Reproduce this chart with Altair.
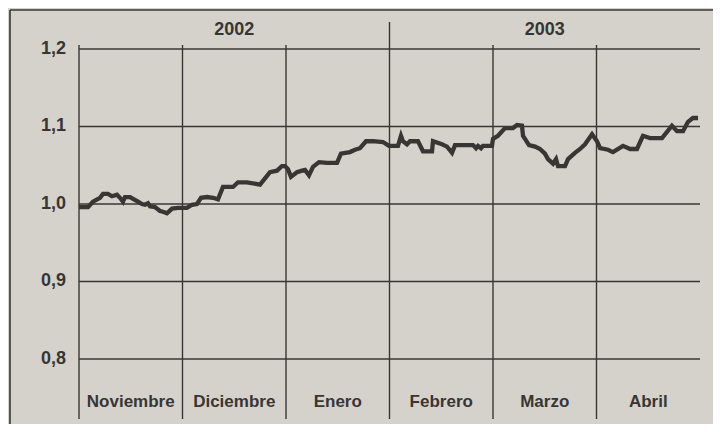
import altair as alt
import pandas as pd

# Month position (0 = start of Noviembre 2002, 6 = end of Abril 2003) and index value
t = [0.000, 0.087, 0.135, 0.203, 0.232, 0.280, 0.319, 0.367, 0.396, 0.425,
     0.444, 0.493, 0.531, 0.570, 0.609, 0.638, 0.667, 0.686, 0.734, 0.783,
     0.812, 0.850, 0.899, 0.957, 1.043, 1.092, 1.140, 1.179, 1.237, 1.295,
     1.343, 1.391, 1.488, 1.536, 1.623, 1.749, 1.845, 1.913, 1.961, 1.990,
     2.019, 2.048, 2.106, 2.155, 2.184, 2.222, 2.261, 2.319, 2.396, 2.493,
     2.531, 2.618, 2.667, 2.715, 2.773, 2.841, 2.937, 2.995, 3.082, 3.111,
     3.130, 3.169, 3.198, 3.275, 3.324, 3.411, 3.420, 3.507, 3.556, 3.604,
     3.633, 3.729, 3.807, 3.836, 3.855, 3.884, 3.903, 3.990, 4.000, 4.048,
     4.116, 4.193, 4.232, 4.280, 4.290, 4.348, 4.406, 4.454, 4.502, 4.531,
     4.580, 4.609, 4.628, 4.696, 4.725, 4.792, 4.841, 4.889, 4.957, 5.005,
     5.034, 5.111, 5.159, 5.256, 5.324, 5.391, 5.449, 5.517, 5.633, 5.729,
     5.778, 5.836, 5.884, 5.932, 5.981]
v = [0.996, 0.996, 1.003, 1.008, 1.013, 1.013, 1.010, 1.012, 1.008, 1.003,
     1.009, 1.009, 1.006, 1.003, 1.000, 0.999, 1.001, 0.997, 0.996, 0.991,
     0.990, 0.988, 0.994, 0.995, 0.995, 0.999, 1.000, 1.008, 1.009, 1.008,
     1.006, 1.022, 1.022, 1.028, 1.028, 1.025, 1.041, 1.043, 1.049, 1.049,
     1.045, 1.035, 1.041, 1.043, 1.044, 1.037, 1.048, 1.054, 1.053, 1.053,
     1.065, 1.067, 1.070, 1.072, 1.081, 1.081, 1.080, 1.075, 1.075, 1.088,
     1.081, 1.077, 1.081, 1.081, 1.068, 1.068, 1.081, 1.077, 1.074, 1.066,
     1.076, 1.076, 1.076, 1.072, 1.075, 1.072, 1.075, 1.075, 1.084, 1.088,
     1.098, 1.098, 1.102, 1.101, 1.088, 1.076, 1.074, 1.071, 1.065, 1.058,
     1.052, 1.058, 1.049, 1.049, 1.058, 1.066, 1.071, 1.077, 1.090, 1.081,
     1.072, 1.070, 1.067, 1.075, 1.071, 1.071, 1.088, 1.085, 1.085, 1.101,
     1.094, 1.094, 1.106, 1.111, 1.111]

months = ["Noviembre", "Diciembre", "Enero", "Febrero", "Marzo", "Abril"]
month_mid = [0.5, 1.5, 2.5, 3.5, 4.5, 5.5]
month_edges = [0, 1, 2, 4, 5]
year_edge = [3]
years = ["2002", "2003"]
year_mid = [1.5, 4.5]
y_ticks = [0.8, 0.9, 1.0, 1.1, 1.2]
y_labels = ["0,8", "0,9", "1,0", "1,1", "1,2"]

BG = "#d5d2cb"
INK = "#383634"
FONT = "Liberation Sans"

W, H = 705, 416
# scales chosen so that month 0 sits 71px in and 1,2 sits 41px down
xs = alt.Scale(domain=[-0.68599, 6.12560], nice=False, zero=False)
ys = alt.Scale(domain=[0.716129, 1.252903], nice=False, zero=False)

def X(f):
    return alt.X(f, scale=xs, axis=None)

def Y(f):
    return alt.Y(f, scale=ys, axis=None)

series = pd.DataFrame({"t": t, "v": v})

hgrid = alt.Chart(pd.DataFrame({"v": y_ticks})).mark_rule(color=INK, strokeWidth=1.4).encode(
    x=alt.X(datum=0, scale=xs, axis=None), x2=alt.X2(datum=6), y=Y("v:Q"))

ylab = alt.Chart(pd.DataFrame({"v": y_ticks, "lab": y_labels})).mark_text(
    font=FONT, fontSize=18, fontWeight="bold", color=INK, align="right", baseline="middle").encode(
    x=alt.X(datum=-0.1256, scale=xs, axis=None), y=Y("v:Q"), text="lab:N")

vrules = alt.Chart(pd.DataFrame({"t": month_edges})).mark_rule(color=INK, strokeWidth=1.4).encode(
    x=X("t:Q"), y=alt.Y(datum=1.20516, scale=ys, axis=None), y2=alt.Y2(datum=0.72258))

yrule = alt.Chart(pd.DataFrame({"t": year_edge})).mark_rule(color=INK, strokeWidth=1.4).encode(
    x=X("t:Q"), y=alt.Y(datum=1.23484, scale=ys, axis=None), y2=alt.Y2(datum=0.72258))

line = alt.Chart(series).mark_line(color=INK, strokeWidth=4.3).encode(x=X("t:Q"), y=Y("v:Q"))

year_txt = alt.Chart(pd.DataFrame({"t": year_mid, "lab": years})).mark_text(
    font=FONT, fontSize=18, fontWeight="bold", color=INK, baseline="middle").encode(
    x=X("t:Q"), y=alt.Y(datum=1.22452, scale=ys, axis=None), text="lab:N")

month_txt = alt.Chart(pd.DataFrame({"t": month_mid, "lab": months})).mark_text(
    font=FONT, fontSize=17, fontWeight="bold", color=INK, baseline="middle").encode(
    x=X("t:Q"), y=alt.Y(datum=0.74452, scale=ys, axis=None), text="lab:N")

frame_top = alt.Chart(pd.DataFrame({"v": [1.25032]})).mark_rule(color=INK, strokeWidth=1.6).encode(
    x=alt.X(datum=-0.6667, scale=xs, axis=None), x2=alt.X2(datum=6.2), y=Y("v:Q"))
frame_left = alt.Chart(pd.DataFrame({"t": [-0.6667]})).mark_rule(color=INK, strokeWidth=1.6).encode(
    x=X("t:Q"), y=alt.Y(datum=1.25032, scale=ys, axis=None), y2=alt.Y2(datum=0.70))

chart = alt.layer(hgrid, vrules, yrule, line, ylab, year_txt, month_txt, frame_top, frame_left).properties(
    width=W, height=H, background=BG,
    autosize=alt.AutoSizeParams(type="none"),
    padding=0,
).configure_view(strokeWidth=0)

chart.save("out.html", embed_options={"renderer": "svg", "actions": False})
